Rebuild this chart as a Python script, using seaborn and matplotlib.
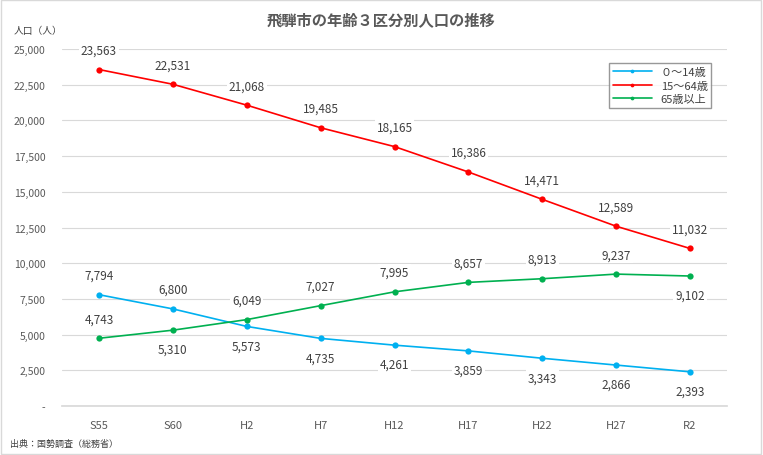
import pandas as pd
import matplotlib.pyplot as plt
import seaborn as sns
from matplotlib.ticker import FuncFormatter

# data
years = ['S55', 'S60', 'H2', 'H7', 'H12', 'H17', 'H22', 'H27', 'R2']
young = [7794, 6800, 5573, 4735, 4261, 3859, 3343, 2866, 2393]
working = [23563, 22531, 21068, 19485, 18165, 16386, 14471, 12589, 11032]
elderly = [4743, 5310, 6049, 7027, 7995, 8657, 8913, 9237, 9102]
series_names = ['０～14歳', '15～64歳', '65歳以上']
colors = ['#00b0f0', '#ff0000', '#00b050']

# label above (1) or below (-1) the point
young_pos = [1, 1, -1, -1, -1, -1, -1, -1, -1]
working_pos = [1] * 9
elderly_pos = [1, -1, 1, 1, 1, 1, 1, 1, -1]

df = pd.DataFrame({'year': years * 3,
                   'value': young + working + elderly,
                   'group': [series_names[0]] * 9 + [series_names[1]] * 9 + [series_names[2]] * 9})
df['x'] = list(range(9)) * 3

sns.set_theme(style='white')
plt.rcParams['font.family'] = ['Noto Sans CJK JP', 'DejaVu Sans']

fig = plt.figure(figsize=(7.63, 4.56), dpi=100)
ax = fig.add_axes([62 / 763, 1 - 407 / 456, (727 - 62) / 763, (407 - 50) / 456])

sns.lineplot(data=df, x='x', y='value', hue='group', palette=colors,
             marker='o', markersize=4.5, markeredgewidth=0, linewidth=1.2, ax=ax)

ax.set_xlim(-0.5, 8.5)
ax.set_ylim(0, 25000)
ax.set_yticks(range(0, 25001, 2500))
ax.yaxis.set_major_formatter(FuncFormatter(lambda v, p: '-' if v == 0 else f'{int(v):,}'))
ax.set_xticks(range(9))
ax.set_xticklabels(years)
ax.set_xticks([i - 0.5 for i in range(10)], minor=True)
ax.tick_params(axis='x', which='major', length=0, pad=10, labelsize=8, colors='#595959')
ax.tick_params(axis='x', which='minor', length=5, color='#d9d9d9', direction='in')
ax.tick_params(axis='y', length=0, labelsize=7.5, colors='#595959', pad=12)
ax.grid(axis='y', color='#d9d9d9', linewidth=0.8)
for s in ['top', 'right', 'left']:
    ax.spines[s].set_visible(False)
ax.spines['bottom'].set_color('#d9d9d9')
ax.set_xlabel('')
ax.set_ylabel('')

# data labels
for vals, pos in [(young, young_pos), (working, working_pos), (elderly, elderly_pos)]:
    for i, (v, p) in enumerate(zip(vals, pos)):
        ax.annotate(f'{v:,}', (i, v), xytext=(0, 14 * p), textcoords='offset points',
                    ha='center', va='center', fontsize=8.5, color='#404040',
                    bbox=dict(boxstyle='square,pad=0.15', fc='white', ec='none'))

leg = ax.legend(loc='upper right', bbox_to_anchor=(0.985, 0.975), fontsize=8,
                frameon=True, fancybox=False, edgecolor='#7f7f7f', handlelength=3.5,
                borderpad=0.35, labelspacing=0.3, markerscale=0.6)
leg.get_frame().set_linewidth(1)
for t in leg.get_texts():
    t.set_color('#404040')

fig.text(0.5, 1 - 20 / 456, '飛騨市の年齢３区分別人口の推移', ha='center', va='center',
         fontsize=11, fontweight='bold', color='#595959')
fig.text(14 / 763, 1 - 31 / 456, '人口（人）', ha='left', va='center', fontsize=7, color='#404040')
fig.text(10 / 763, 1 - 444 / 456, '出典：国勢調査（総務省）', ha='left', va='center', fontsize=6.5, color='#404040')

fig.patches.append(plt.Rectangle((0.001, 0.002), 0.997, 0.995, transform=fig.transFigure,
                                 fill=False, ec='#d9d9d9', lw=1))

fig.savefig('out.png', dpi=100)
